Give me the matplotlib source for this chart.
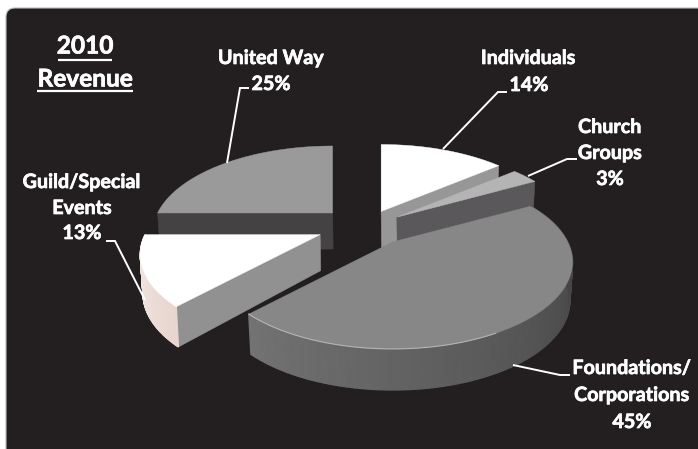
import numpy as np
import matplotlib
matplotlib.use("Agg")
import matplotlib.pyplot as plt
import matplotlib.patheffects as pe
from matplotlib.patches import Polygon, PathPatch
from matplotlib.path import Path

# Revenue shares, clockwise from twelve o'clock
categories = ["Individuals", "Church Groups", "Foundations/Corporations",
              "Guild/Special Events", "United Way"]
shares = [14, 3, 45, 13, 25]
explode = [0.85, 0.85, 1.00, 1.05, 0.98]

INK = "#231f20"
W, H = 698, 449

# Projection of the tilted pie onto the canvas
PIE_X, PIE_Y = 364.5, 226.5
EXPLODE_X, EXPLODE_Y = 46.0, 19.5
RAD_X, RAD_Y, PERSP = 175.0, 82.4, 0.23
WALL = 38.0

top_col = ["#ffffff", "#b4b4b4", "#878787", "#ffffff", "#9a9a9a"]


def project(apex, deg):
    a = np.radians(deg)
    X, Y = np.cos(a), np.sin(a)
    d = 1 + PERSP * Y
    return apex[0] + RAD_X * X / d, apex[1] - RAD_Y * Y / d, Y


def rim(apex, deg):
    x, y, _ = project(apex, deg)
    return x, y


def base(apex, deg):
    x, y, Y = project(apex, deg)
    return apex[0] + 0.985 * (x - apex[0]), y + WALL - 3 * Y


def mix(c1, c2, t):
    c1, c2 = np.array(matplotlib.colors.to_rgb(c1)), np.array(matplotlib.colors.to_rgb(c2))
    return tuple(c1 + (c2 - c1) * t)


def side_wall(ax, apex, deg, color, z):
    p1 = apex
    p2 = rim(apex, deg)
    p3 = base(apex, deg)
    p4 = (apex[0] + 0.5, apex[1] + WALL - 2)
    ax.add_patch(Polygon([p1, p2, p3, p4], closed=True, fc=color, ec=color, lw=0.4, zorder=z))


def arc_wall(ax, apex, a0, a1, c0, c1, z, steps=90):
    angles = np.linspace(a0, a1, steps + 1)
    for i in range(steps):
        t = i / (steps - 1)
        col = mix(c0, c1, t)
        quad = [rim(apex, angles[i]), rim(apex, angles[i + 1]),
                base(apex, angles[i + 1]), base(apex, angles[i])]
        ax.add_patch(Polygon(quad, closed=True, fc=col, ec=col, lw=1.0, zorder=z))


fig = plt.figure(figsize=(W / 100, H / 100), dpi=100, facecolor="white")
ax = fig.add_axes([0, 0, 1, 1])
ax.set_xlim(0, W)
ax.set_ylim(H, 0)
ax.axis("off")

# Dark panel, rounded at its top-left corner and running off the other edges
r = 9
verts = [(6, H + 5), (6, 8 + r), (6, 8), (6 + r, 8), (W + 5, 8), (W + 5, H + 5), (6, H + 5)]
codes = [Path.MOVETO, Path.LINETO, Path.CURVE3, Path.CURVE3, Path.LINETO, Path.LINETO, Path.CLOSEPOLY]
ax.add_patch(PathPatch(Path(verts, codes), fc=INK, ec="#b9b9b9", lw=0.8, zorder=0))

# Slice angles and apex positions follow from the shares
total = float(sum(shares))
edges = 90 - np.cumsum([0] + shares) * 360.0 / total
starts, ends = edges[:-1], edges[1:]
mids = (starts + ends) / 2
apexes = [(PIE_X + EXPLODE_X * e * np.cos(np.radians(m)),
           PIE_Y - EXPLODE_Y * e * np.sin(np.radians(m))) for e, m in zip(explode, mids)]

ind, chu, fou, gui, uni = range(5)


def top_face(i, z):
    angles = np.linspace(starts[i], ends[i], 120)
    pts = [apexes[i]] + [rim(apexes[i], a) for a in angles]
    ax.add_patch(Polygon(pts, closed=True, fc=top_col[i], ec=top_col[i], lw=0.3, zorder=z))


# Painted back to front
side_wall(ax, apexes[uni], starts[uni], "#454244", 2)
top_face(uni, 3)

side_wall(ax, apexes[ind], ends[ind], "#979797", 4)
top_face(ind, 5)

side_wall(ax, apexes[chu], ends[chu], "#5a585a", 6)
top_face(chu, 7)

side_wall(ax, apexes[gui], starts[gui], "#919191", 8)
arc_wall(ax, apexes[gui], ends[gui], starts[gui], "#f6eeea", "#e8d5cf", 8)
top_face(gui, 9)

arc_wall(ax, apexes[fou], ends[fou], starts[fou], "#737373", "#3a3839", 10, steps=160)
top_face(fou, 11)
rim_pts = np.array([rim(apexes[fou], a) for a in np.linspace(ends[fou], -62, 80)])
ax.plot(rim_pts[:, 0], rim_pts[:, 1], color="#b5b5b5", lw=0.8, zorder=12)

# Callout leaders
leaders = [
    [(227, 163), (240, 88), (249, 88)],
    [(443, 149), (498, 92), (507, 92)],
    [(528, 176), (567, 159), (577, 159)],
    [(513, 365), (560, 375), (570, 375)],
    [(145, 300), (115, 241), (106, 241)],
]
for path in leaders:
    xs, ys = zip(*path)
    ax.plot(xs, ys, color="white", lw=1.4, zorder=13, solid_capstyle="butt", solid_joinstyle="miter")

heavier = [pe.withStroke(linewidth=0.5, foreground="white")]

# Category labels
labels = [
    ("United Way", 271, 58), ("25%", 271, 84),
    ("Individuals", 528.5, 58), ("14%", 529, 85),
    ("Church", 610, 127), ("Groups", 610, 153), ("3%", 610, 179),
    ("Guild/Special", 82, 182), ("Events", 82, 208), ("13%", 82, 233),
    ("Foundations/", 632, 368), ("Corporations", 632, 395), ("45%", 632, 422),
]
for text, x, y in labels:
    ax.text(x, y, text, ha="center", va="center", color="white", fontsize=14.2,
            fontweight="bold", family="Lato", zorder=14, path_effects=heavier)

# Heading with its underlines
ax.text(85, 46, "2010", ha="center", va="center", color="white", fontsize=17.6,
        fontweight="bold", family="Lato", zorder=14, path_effects=heavier)
ax.text(85, 79, "Revenue", ha="center", va="center", color="white", fontsize=17.6,
        fontweight="bold", family="Lato", zorder=14, path_effects=heavier)
ax.plot([58, 112], [60, 60], color="white", lw=1.6, zorder=14, solid_capstyle="butt")
ax.plot([37, 133], [91, 91], color="white", lw=1.6, zorder=14, solid_capstyle="butt")

fig.savefig("out.png", dpi=100, facecolor="white")
